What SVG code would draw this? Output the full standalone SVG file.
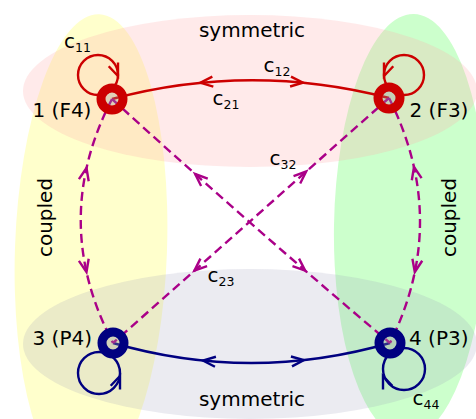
<svg xmlns="http://www.w3.org/2000/svg" width="476" height="419" viewBox="0 0 476 419">
<style>
text{font-family:"DejaVu Sans","Liberation Sans",sans-serif;font-size:20px;fill:#000}
.sub{font-size:12.5px}
.red{stroke:#cc0000}
.blue{stroke:#000080}
.mag{stroke:#aa0088}
.edge{fill:none;stroke-width:2.4}
.dash{stroke-dasharray:9,5}
.ah{fill:none;stroke-width:2.4;stroke-linejoin:miter}
.node{fill:#999;fill-opacity:0.3;stroke-width:9}
</style>
<defs>
<path id="chev" d="M-12.5,-5 L0,0 L-12.5,5"/>
</defs>
<g id="regions">
<ellipse cx="91" cy="249" rx="76" ry="235" transform="rotate(2 91 249)" fill="#ffff99" fill-opacity="0.5"/>
<ellipse cx="410" cy="226" rx="76" ry="212" transform="rotate(1 410 226)" fill="#99ff99" fill-opacity="0.5"/>
<ellipse cx="250" cy="91" rx="227" ry="76" fill="#ffaaaa" fill-opacity="0.25"/>
<ellipse cx="250" cy="344" rx="227" ry="75" fill="#9999bb" fill-opacity="0.2"/>
</g>
<g id="connectors">
<path class="edge red" d="M112,99 Q250,62 389,98"/>
<use href="#chev" class="ah red" transform="translate(200.4,82.8) rotate(174.4)"/>
<use href="#chev" class="ah red" transform="translate(303,82.7) rotate(5.3)"/>
<path class="edge blue" d="M113,343 Q251,383 390,343"/>
<use href="#chev" class="ah blue" transform="translate(203,360.5) rotate(-174.4)"/>
<use href="#chev" class="ah blue" transform="translate(303.9,360.1) rotate(-6.25)"/>
<circle class="edge red" cx="98" cy="75" r="20"/>
<use href="#chev" class="ah red" transform="translate(118,76) rotate(68.2)"/>
<circle class="edge red" cx="404" cy="75" r="20"/>
<use href="#chev" class="ah red" transform="translate(384,76) rotate(111.8)"/>
<circle class="edge blue" cx="99" cy="373" r="21"/>
<use href="#chev" class="ah blue" transform="translate(120,376) rotate(-68.2)"/>
<circle class="edge blue" cx="404" cy="369" r="21"/>
<use href="#chev" class="ah blue" transform="translate(383,376) rotate(-111.8)"/>
<path class="edge mag dash" d="M112,99 Q49,221 113,343"/>
<use href="#chev" class="ah mag" transform="translate(86.5,168) rotate(-77.5)"/>
<use href="#chev" class="ah mag" transform="translate(86.5,272) rotate(77.5)"/>
<path class="edge mag dash" d="M389,98 Q450.5,220.5 390,343"/>
<use href="#chev" class="ah mag" transform="translate(414,167) rotate(-102.5)"/>
<use href="#chev" class="ah mag" transform="translate(414.8,272) rotate(101.6)"/>
<path class="edge mag dash" d="M112,99 Q249,224 390,343"/>
<use href="#chev" class="ah mag" transform="translate(195.1,174) rotate(-138.3)"/>
<use href="#chev" class="ah mag" transform="translate(305.2,270.6) rotate(40.9)"/>
<path class="edge mag dash" d="M389,98 L113,343"/>
<use href="#chev" class="ah mag" transform="translate(306.2,171.5) rotate(-41.6)"/>
<use href="#chev" class="ah mag" transform="translate(194.4,270.7) rotate(138.4)"/>
</g>
<g id="node1"><circle class="node red" cx="112" cy="99" r="11"/><text x="32.5" y="116.5">1 (F4)</text></g>
<g id="node2"><circle class="node red" cx="389" cy="98" r="11"/><text x="409.5" y="116.5">2 (F3)</text></g>
<g id="node3"><circle class="node blue" cx="113" cy="343" r="11"/><text x="32.5" y="344.5">3 (P4)</text></g>
<g id="node4"><circle class="node blue" cx="390" cy="343" r="11"/><text x="409" y="344.5">4 (P3)</text></g>
<g id="labels">
<text x="252" y="37" text-anchor="middle">symmetric</text>
<text x="252" y="405.5" text-anchor="middle">symmetric</text>
<text transform="translate(51.5,217.5) rotate(-90)" text-anchor="middle">coupled</text>
<text transform="translate(456,217.5) rotate(-90)" text-anchor="middle">coupled</text>
<text x="64" y="48.3">c<tspan class="sub" dy="4">11</tspan></text>
<text x="263.5" y="71.7">c<tspan class="sub" dy="4">12</tspan></text>
<text x="212.5" y="105">c<tspan class="sub" dy="4">21</tspan></text>
<text x="269.5" y="165">c<tspan class="sub" dy="4">32</tspan></text>
<text x="207.5" y="281.7">c<tspan class="sub" dy="4">23</tspan></text>
<text x="412.5" y="404.5">c<tspan class="sub" dy="4">44</tspan></text>
</g>
</svg>
